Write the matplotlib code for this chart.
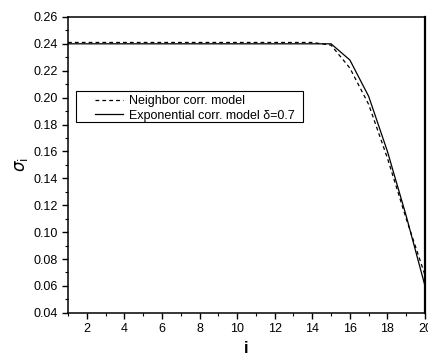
import matplotlib
matplotlib.use("Agg")
import matplotlib.pyplot as plt
from matplotlib.patches import Rectangle
from matplotlib.ticker import MultipleLocator

plt.rcParams["font.family"] = ["Liberation Sans", "DejaVu Sans"]

i_vals = [1, 2, 3, 4, 5, 6, 7, 8, 9, 10, 11, 12, 13, 14, 15, 16, 17, 18, 19, 20]
neighbor = [0.241, 0.241, 0.241, 0.241, 0.241, 0.241, 0.241, 0.241, 0.241, 0.241,
            0.241, 0.241, 0.241, 0.241, 0.239, 0.222, 0.195, 0.155, 0.110, 0.068]
exponential = [0.240, 0.240, 0.240, 0.240, 0.240, 0.240, 0.240, 0.240, 0.240, 0.240,
               0.240, 0.240, 0.240, 0.240, 0.240, 0.228, 0.201, 0.160, 0.112, 0.060]

fig = plt.figure(figsize=(4.28, 3.6), dpi=100)
ax = fig.add_axes([0.159, 0.131, 0.834, 0.822])

ax.plot(i_vals, neighbor, color="black", linestyle=(0, (3, 2.5)), linewidth=0.9,
        label="Neighbor corr. model")
ax.plot(i_vals, exponential, color="black", linestyle="-", linewidth=0.9,
        label="Exponential corr. model δ=0.7")

ax.set_xlim(1, 20)
ax.set_ylim(0.04, 0.26)
ax.xaxis.set_major_locator(MultipleLocator(2))
ax.xaxis.set_minor_locator(MultipleLocator(1))
ax.yaxis.set_major_locator(MultipleLocator(0.02))
ax.yaxis.set_minor_locator(MultipleLocator(0.01))
ax.yaxis.set_major_formatter(plt.FormatStrFormatter("%.2f"))
ax.tick_params(which="major", direction="out", length=4, width=1, labelsize=9)
ax.tick_params(which="minor", direction="out", length=2.5, width=0.8)
for side in ax.spines.values():
    side.set_linewidth(1.1)
ax.spines["right"].set_linewidth(1.6)

ax.set_xlabel("i", fontsize=12, fontweight="bold")
ax.set_ylabel(r"$\sigma_{\rm i}$", fontsize=12, labelpad=2)

# legend without its own frame; box drawn separately to get the wide side padding
leg = ax.legend(loc="upper left", bbox_to_anchor=(0.0756, 0.736), borderaxespad=0,
                fontsize=9, handlelength=2.2, handletextpad=0.5, labelspacing=0.2,
                frameon=False, borderpad=0)
ax.add_patch(Rectangle((0.0224, 0.645), 0.636, 0.105, transform=ax.transAxes,
                       fill=False, edgecolor="black", linewidth=0.8, zorder=5))

fig.savefig("out.png", dpi=100)
